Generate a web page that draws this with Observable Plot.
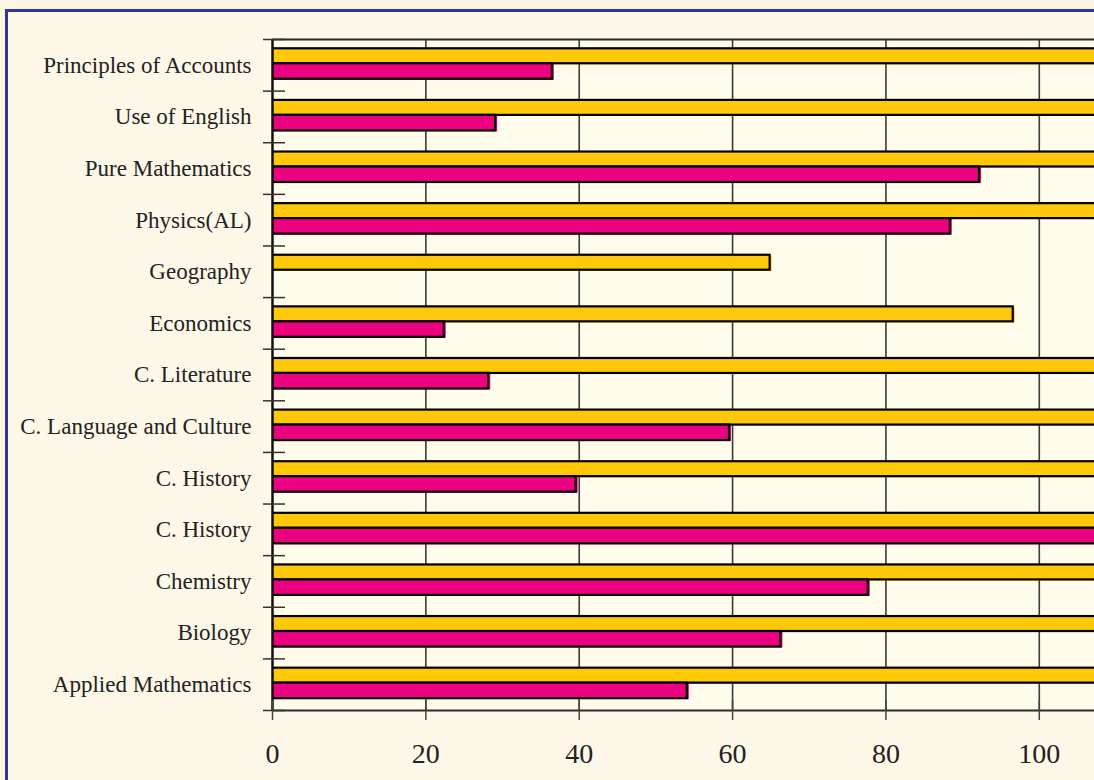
<!DOCTYPE html>
<html>
<head>
<meta charset="utf-8">
<script src="https://cdn.jsdelivr.net/npm/d3@7"></script>
<script src="https://cdn.jsdelivr.net/npm/@observablehq/plot@0.6"></script>
<style>
  html, body { margin: 0; padding: 0; }
  body {
    width: 1094px; height: 780px; overflow: hidden; position: relative;
    background: #fcf5e4;
    font-family: "Liberation Serif", "DejaVu Serif", serif;
  }
  #panel {
    position: absolute; left: 5px; top: 9px; right: -20px; bottom: -20px;
    border: 3px solid #333399;
    background: #fdf7e8;
  }
  #chart { position: absolute; left: 0; top: 0; }
</style>
</head>
<body>
<div id="panel"></div>
<div id="chart"></div>
<script>
// Subjects, listed top to bottom
const categories = [
  "Principles of Accounts",
  "Use of English",
  "Pure Mathematics",
  "Physics(AL)",
  "Geography",
  "Economics",
  "C. Literature",
  "C. Language and Culture",
  "C. History",
  "C. History",
  "Chemistry",
  "Biology",
  "Applied Mathematics"
];

// Upper (gold) bar of each subject
const goldValues = [112, 112, 112, 112, 64.9, 96.6, 112, 112, 112, 112, 112, 112, 112];

// Lower (magenta) bar of each subject; Geography has none
const magentaValues = [36.5, 29.1, 92.2, 88.4, null, 22.4, 28.2, 59.6, 39.6, 112, 77.7, 66.3, 54.1];

const xTicks = [0, 20, 40, 60, 80, 100];
const gridTicks = [20, 40, 60, 80, 100];

const goldColor = "#ffc90a";
const magentaColor = "#ec0280";

// Each subject occupies one unit of the y scale; the two bars sit side by side inside it
const rows = categories.flatMap((name, i) => [
  {name, series: "gold", value: goldValues[i], y1: i + 0.18, y2: i + 0.47},
  {name, series: "magenta", value: magentaValues[i], y1: i + 0.47, y2: i + 0.77}
]).filter(d => d.value != null);

const fillOf = d => d.series === "gold" ? goldColor : magentaColor;
const blank = () => "";

const chart = Plot.plot({
  width: 1094,
  height: 780,
  marginLeft: 272,
  marginRight: 0,
  marginTop: 39,
  marginBottom: 70,
  style: {background: "transparent", fontFamily: "Liberation Serif, serif", overflow: "visible"},
  x: {domain: [0, 107.2]},
  y: {domain: [0, categories.length], reverse: true},
  marks: [
    Plot.frame({fill: "#fffcec", stroke: null}),
    // vertical gridlines
    Plot.ruleX(gridTicks, {stroke: "#3a3a3a", strokeWidth: 1.6}),
    // top and bottom edges of the plot area
    Plot.ruleY([0, categories.length], {stroke: "#2a2a2a", strokeWidth: 2}),
    // bar shadows
    Plot.rectX(rows, {x1: 0, x2: "value", y1: "y1", y2: "y2", fill: fillOf, dx: 2, dy: 1, clip: true}),
    // bars
    Plot.rectX(rows, {x1: 0, x2: "value", y1: "y1", y2: "y2", fill: fillOf, stroke: "#000", strokeWidth: 2.2, clip: true}),
    // value axis line
    Plot.ruleX([0], {stroke: "#111", strokeWidth: 2.5}),
    // subject labels centred on each row
    Plot.axisY(categories.map((d, i) => i + 0.5), {
      tickSize: 0,
      tickPadding: 21,
      tickFormat: v => categories[Math.floor(v)],
      fontSize: 23,
      fill: "#222",
      label: null
    }),
    // tick marks at row boundaries, crossing the axis
    Plot.axisY(d3.range(categories.length + 1), {
      tickSize: 22,
      dx: 13,
      tickFormat: blank,
      stroke: "#333",
      strokeWidth: 1.5,
      label: null
    }),
    // x tick marks crossing the bottom edge
    Plot.axisX(xTicks, {
      tickSize: 20,
      dy: -10,
      tickFormat: blank,
      stroke: "#444",
      strokeWidth: 1.5,
      label: null
    }),
    // x tick labels
    Plot.axisX(xTicks, {
      tickSize: 0,
      tickPadding: 33,
      fontSize: 28,
      fill: "#222",
      label: null
    })
  ]
});

document.getElementById("chart").appendChild(chart);
</script>
</body>
</html>
